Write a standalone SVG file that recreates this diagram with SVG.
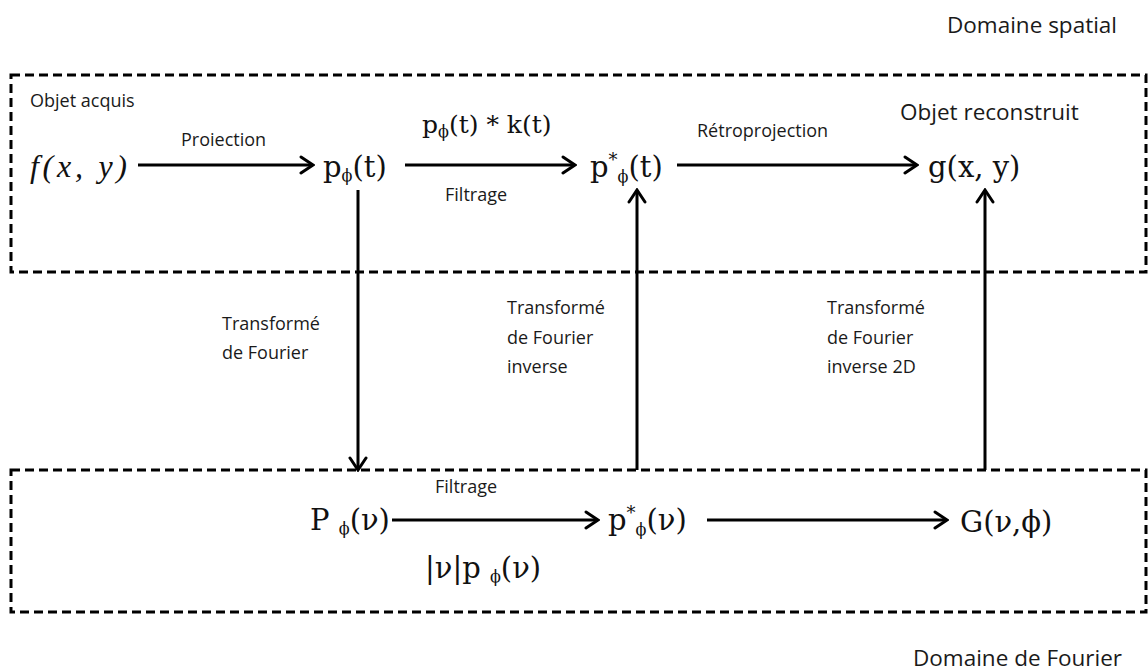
<svg xmlns="http://www.w3.org/2000/svg" width="1148" height="671" viewBox="0 0 1148 671">
<defs>
<marker id="arr" markerUnits="userSpaceOnUse" viewBox="0 0 16 20" refX="14" refY="10" markerWidth="16" markerHeight="20" orient="auto">
<path d="M2,2 L14,10 L2,18" fill="none" stroke="#000" stroke-width="3" stroke-linecap="round" stroke-linejoin="miter"/>
</marker>
</defs>
<style>
.box{fill:none;stroke:#000;stroke-width:3;stroke-dasharray:9 5}
.ln{fill:none;stroke:#000;stroke-width:3;marker-end:url(#arr)}
.lb{font-family:"Open Sans","Noto Sans",sans-serif;font-size:18px;fill:#1a1a1a}
.big{font-family:"Open Sans","Noto Sans",sans-serif;font-size:22.5px;fill:#1a1a1a}
.m{font-family:"DejaVu Serif","Liberation Serif",serif;font-size:29px;fill:#111}
.mi{font-family:"Liberation Serif",serif;font-size:32px;font-style:italic;fill:#111}
.sub{font-size:16px}
.sup{font-size:18px}
</style>
<rect width="1148" height="671" fill="#fff"/>
<g id="domains">
<rect class="box" x="11" y="75" width="1135" height="197"/>
<rect class="box" x="11" y="470" width="1135" height="142"/>
<text class="big" x="947" y="33">Domaine spatial</text>
<text class="big" x="913" y="666">Domaine de Fourier</text>
</g>
<g id="connectors">
<line class="ln" x1="138" y1="165" x2="313" y2="165"/>
<line class="ln" x1="405" y1="165" x2="575" y2="165"/>
<line class="ln" x1="677" y1="165" x2="917" y2="165"/>
<line class="ln" x1="358" y1="190" x2="358" y2="470"/>
<line class="ln" x1="637" y1="470" x2="637" y2="190"/>
<line class="ln" x1="985" y1="470" x2="985" y2="190"/>
<line class="ln" x1="392" y1="520" x2="598" y2="520"/>
<line class="ln" x1="707" y1="520" x2="947" y2="520"/>
</g>
<g id="labels">
<text class="lb" x="181" y="146">Proiection</text>
<text class="m" x="422" y="133" style="font-size:25px">p<tspan class="sub" dy="4">ϕ</tspan><tspan dy="-4">(t) * k(t)</tspan></text>
<text class="lb" x="445" y="201">Filtrage</text>
<text class="lb" x="697" y="137">Rétroprojection</text>
<text class="lb" x="222" y="330">Transformé</text>
<text class="lb" x="222" y="359">de Fourier</text>
<text class="lb" x="507" y="314">Transformé</text>
<text class="lb" x="507" y="344">de Fourier</text>
<text class="lb" x="507" y="373">inverse</text>
<text class="lb" x="827" y="314">Transformé</text>
<text class="lb" x="827" y="344">de  Fourier</text>
<text class="lb" x="827" y="373">inverse  2D</text>
<text class="lb" x="435" y="493">Filtrage</text>
<text class="m" x="425" y="578">|ν|p <tspan class="sub" dy="4">ϕ</tspan><tspan dy="-4">(ν)</tspan></text>
</g>
<g id="n-f">
<text class="lb" x="30" y="107">Objet acquis</text>
<text class="mi" x="30" y="177" textLength="97" lengthAdjust="spacing">f(x, y)</text>
</g>
<g id="n-p">
<text class="m" x="323" y="177">p<tspan class="sub" dy="4">ϕ</tspan><tspan dy="-4">(t)</tspan></text>
</g>
<g id="n-pstar">
<text class="m" x="590" y="177">p<tspan class="sup" dy="-11">*</tspan><tspan class="sub" dy="16">ϕ</tspan><tspan dy="-5">(t)</tspan></text>
</g>
<g id="n-g">
<text class="big" x="900" y="120">Objet reconstruit</text>
<text class="m" x="928" y="177">g(x, y)</text>
</g>
<g id="n-P">
<text class="m" x="310" y="530">P <tspan class="sub" dy="4">ϕ</tspan><tspan dy="-4">(ν)</tspan></text>
</g>
<g id="n-pstarnu">
<text class="m" x="608" y="530">p<tspan class="sup" dy="-11">*</tspan><tspan class="sub" dy="16">ϕ</tspan><tspan dy="-5">(ν)</tspan></text>
</g>
<g id="n-G">
<text class="m" x="960" y="532">G(ν,ϕ)</text>
</g>
</svg>
